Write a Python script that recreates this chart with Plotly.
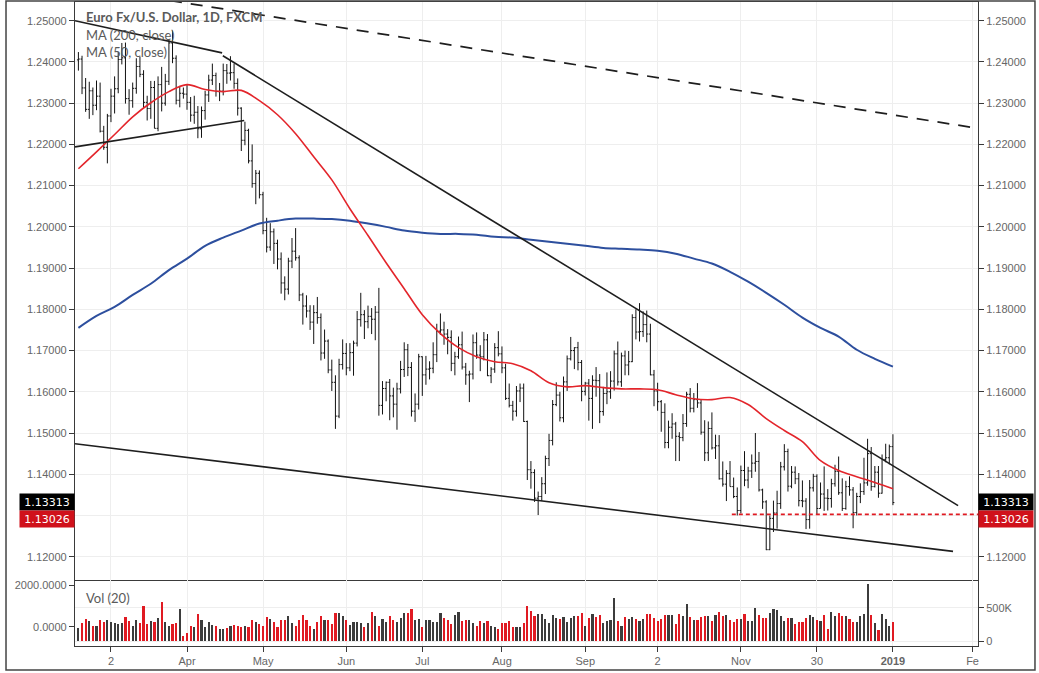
import plotly.graph_objects as go

# ---------------- data ----------------
# trading-day index 0 = 19 Feb 2018 ... 225 = 2 Jan 2019
tick_idx = [9, 30, 51, 74, 95, 117, 140, 160, 183, 204, 225, 247]
tick_text = ["2", "Apr", "May", "Jun", "Jul", "Aug", "Sep", "2", "Nov", "30", "<b>2019</b>", "Fe"]

opens = [
    1.2405, 1.2407, 1.2337, 1.2285, 1.2330, 1.2295, 1.2317, 1.2232, 1.2193, 1.2269,
    1.2317, 1.2335, 1.2406, 1.2410, 1.2311, 1.2306, 1.2336, 1.2389, 1.2370, 1.2302,
    1.2287, 1.2338, 1.2239, 1.2345, 1.2300, 1.2353, 1.2446, 1.2409, 1.2307, 1.2324,
    1.2322, 1.2302, 1.2271, 1.2278, 1.2238, 1.2282, 1.2320, 1.2356, 1.2367, 1.2328,
    1.2329, 1.2379, 1.2373, 1.2374, 1.2348, 1.2288, 1.2210, 1.2234, 1.2160, 1.2105,
    1.2130, 1.2078, 1.1991, 1.1951, 1.1988, 1.1960, 1.1922, 1.1864, 1.1849, 1.1917,
    1.1941, 1.1925, 1.1835, 1.1808, 1.1796, 1.1769, 1.1792, 1.1780, 1.1694, 1.1723,
    1.1653, 1.1623, 1.1541, 1.1666, 1.1693, 1.1658, 1.1695, 1.1718, 1.1775, 1.1787,
    1.1770, 1.1783, 1.1776, 1.1793, 1.1567, 1.1608, 1.1623, 1.1590, 1.1570, 1.1607,
    1.1654, 1.1702, 1.1659, 1.1553, 1.1570, 1.1685, 1.1641, 1.1655, 1.1657, 1.1690,
    1.1747, 1.1750, 1.1740, 1.1732, 1.1669, 1.1685, 1.1714, 1.1660, 1.1641, 1.1643,
    1.1719, 1.1689, 1.1685, 1.1726, 1.1639, 1.1655, 1.1707, 1.1692, 1.1658, 1.1584,
    1.1567, 1.1553, 1.1602, 1.1609, 1.1528, 1.1411, 1.1404, 1.1342, 1.1346, 1.1377,
    1.1438, 1.1482, 1.1569, 1.1592, 1.1537, 1.1624, 1.1680, 1.1700, 1.1707, 1.1671,
    1.1601, 1.1621, 1.1584, 1.1628, 1.1627, 1.1552, 1.1596, 1.1600, 1.1626, 1.1692,
    1.1624, 1.1687, 1.1665, 1.1673, 1.1780, 1.1745, 1.1746, 1.1763, 1.1740, 1.1641,
    1.1602, 1.1576, 1.1550, 1.1477, 1.1514, 1.1522, 1.1492, 1.1489, 1.1523, 1.1594,
    1.1560, 1.1581, 1.1573, 1.1502, 1.1452, 1.1511, 1.1464, 1.1469, 1.1389, 1.1376,
    1.1402, 1.1370, 1.1346, 1.1312, 1.1409, 1.1386, 1.1408, 1.1427, 1.1431, 1.1362,
    1.1333, 1.1217, 1.1293, 1.1306, 1.1329, 1.1418, 1.1455, 1.1371, 1.1405, 1.1389,
    1.1336, 1.1335, 1.1290, 1.1367, 1.1395, 1.1317, 1.1352, 1.1342, 1.1341, 1.1377,
    1.1407, 1.1355, 1.1317, 1.1370, 1.1362, 1.1307, 1.1346, 1.1358, 1.1379, 1.1450,
    1.1370, 1.1405, 1.1354, 1.1436, 1.1440, 1.1467,
]
highs = [
    1.2424, 1.2415, 1.2361, 1.2352, 1.2338, 1.2355, 1.2350, 1.2245, 1.2274, 1.2335,
    1.2365, 1.2424, 1.2446, 1.2447, 1.2334, 1.2350, 1.2409, 1.2413, 1.2380, 1.2318,
    1.2354, 1.2354, 1.2365, 1.2388, 1.2371, 1.2455, 1.2476, 1.2416, 1.2342, 1.2338,
    1.2345, 1.2315, 1.2318, 1.2293, 1.2292, 1.2330, 1.2369, 1.2396, 1.2374, 1.2349,
    1.2396, 1.2395, 1.2414, 1.2396, 1.2360, 1.2290, 1.2255, 1.2238, 1.2200, 1.2138,
    1.2137, 1.2085, 1.2022, 1.2009, 1.1996, 1.1969, 1.1938, 1.1880, 1.1925, 1.1973,
    1.1997, 1.1931, 1.1840, 1.1834, 1.1810, 1.1810, 1.1830, 1.1790, 1.1751, 1.1727,
    1.1678, 1.1640, 1.1680, 1.1727, 1.1718, 1.1718, 1.1724, 1.1796, 1.1840, 1.1798,
    1.1809, 1.1803, 1.1808, 1.1852, 1.1626, 1.1625, 1.1631, 1.1610, 1.1622, 1.1675,
    1.1720, 1.1716, 1.1672, 1.1596, 1.1692, 1.1686, 1.1687, 1.1674, 1.1720, 1.1765,
    1.1790, 1.1770, 1.1752, 1.1749, 1.1697, 1.1734, 1.1746, 1.1670, 1.1651, 1.1739,
    1.1744, 1.1713, 1.1745, 1.1740, 1.1660, 1.1718, 1.1747, 1.1710, 1.1668, 1.1620,
    1.1578, 1.1614, 1.1620, 1.1620, 1.1530, 1.1432, 1.1412, 1.1358, 1.1393, 1.1445,
    1.1498, 1.1580, 1.1623, 1.1600, 1.1637, 1.1688, 1.1733, 1.1708, 1.1721, 1.1677,
    1.1624, 1.1631, 1.1640, 1.1660, 1.1643, 1.1612, 1.1647, 1.1650, 1.1700, 1.1722,
    1.1695, 1.1700, 1.1699, 1.1788, 1.1800, 1.1815, 1.1795, 1.1797, 1.1765, 1.1653,
    1.1622, 1.1580, 1.1572, 1.1530, 1.1548, 1.1527, 1.1502, 1.1546, 1.1600, 1.1609,
    1.1597, 1.1621, 1.1580, 1.1531, 1.1528, 1.1550, 1.1496, 1.1495, 1.1431, 1.1410,
    1.1432, 1.1392, 1.1368, 1.1421, 1.1456, 1.1418, 1.1448, 1.1500, 1.1454, 1.1365,
    1.1337, 1.1300, 1.1336, 1.1360, 1.1430, 1.1473, 1.1462, 1.1420, 1.1419, 1.1403,
    1.1385, 1.1342, 1.1386, 1.1401, 1.1400, 1.1380, 1.1419, 1.1364, 1.1389, 1.1423,
    1.1443, 1.1390, 1.1384, 1.1395, 1.1369, 1.1355, 1.1378, 1.1440, 1.1486, 1.1466,
    1.1420, 1.1420, 1.1448, 1.1474, 1.1472, 1.1497,
]
lows = [
    1.2379, 1.2322, 1.2279, 1.2262, 1.2271, 1.2283, 1.2229, 1.2187, 1.2154, 1.2254,
    1.2275, 1.2324, 1.2394, 1.2299, 1.2272, 1.2289, 1.2323, 1.2363, 1.2288, 1.2258,
    1.2262, 1.2239, 1.2232, 1.2280, 1.2294, 1.2344, 1.2397, 1.2297, 1.2290, 1.2311,
    1.2284, 1.2255, 1.2250, 1.2215, 1.2216, 1.2260, 1.2303, 1.2344, 1.2316, 1.2305,
    1.2319, 1.2347, 1.2355, 1.2335, 1.2270, 1.2184, 1.2198, 1.2154, 1.2095, 1.2055,
    1.2069, 1.1982, 1.1938, 1.1942, 1.1910, 1.1897, 1.1838, 1.1822, 1.1836, 1.1900,
    1.1918, 1.1820, 1.1763, 1.1780, 1.1750, 1.1716, 1.1765, 1.1676, 1.1680, 1.1645,
    1.1602, 1.1510, 1.1536, 1.1654, 1.1640, 1.1650, 1.1639, 1.1710, 1.1758, 1.1728,
    1.1754, 1.1740, 1.1725, 1.1542, 1.1545, 1.1577, 1.1531, 1.1538, 1.1508, 1.1596,
    1.1636, 1.1638, 1.1540, 1.1527, 1.1557, 1.1590, 1.1617, 1.1630, 1.1645, 1.1672,
    1.1738, 1.1714, 1.1691, 1.1650, 1.1640, 1.1680, 1.1654, 1.1617, 1.1575, 1.1630,
    1.1680, 1.1650, 1.1676, 1.1638, 1.1621, 1.1646, 1.1686, 1.1645, 1.1580, 1.1562,
    1.1530, 1.1540, 1.1575, 1.1527, 1.1386, 1.1365, 1.1333, 1.1301, 1.1335, 1.1352,
    1.1420, 1.1470, 1.1565, 1.1528, 1.1526, 1.1602, 1.1676, 1.1655, 1.1652, 1.1577,
    1.1591, 1.1530, 1.1510, 1.1588, 1.1524, 1.1542, 1.1570, 1.1583, 1.1603, 1.1615,
    1.1612, 1.1640, 1.1640, 1.1672, 1.1727, 1.1722, 1.1733, 1.1720, 1.1640, 1.1565,
    1.1554, 1.1503, 1.1463, 1.1463, 1.1486, 1.1432, 1.1432, 1.1480, 1.1515, 1.1550,
    1.1550, 1.1561, 1.1496, 1.1432, 1.1432, 1.1460, 1.1437, 1.1387, 1.1370, 1.1335,
    1.1370, 1.1342, 1.1300, 1.1305, 1.1371, 1.1366, 1.1391, 1.1406, 1.1358, 1.1316,
    1.1216, 1.1216, 1.1260, 1.1268, 1.1316, 1.1409, 1.1358, 1.1366, 1.1376, 1.1322,
    1.1320, 1.1267, 1.1268, 1.1358, 1.1301, 1.1317, 1.1311, 1.1312, 1.1319, 1.1370,
    1.1350, 1.1311, 1.1314, 1.1348, 1.1269, 1.1300, 1.1330, 1.1350, 1.1372, 1.1360,
    1.1368, 1.1343, 1.1353, 1.1429, 1.1424, 1.1325,
]
closes = [
    1.2407, 1.2337, 1.2285, 1.2330, 1.2295, 1.2317, 1.2232, 1.2193, 1.2269, 1.2317,
    1.2335, 1.2406, 1.2410, 1.2311, 1.2306, 1.2336, 1.2389, 1.2370, 1.2302, 1.2287,
    1.2338, 1.2239, 1.2345, 1.2300, 1.2353, 1.2446, 1.2409, 1.2307, 1.2324, 1.2322,
    1.2302, 1.2271, 1.2278, 1.2238, 1.2282, 1.2320, 1.2356, 1.2367, 1.2328, 1.2329,
    1.2379, 1.2373, 1.2374, 1.2348, 1.2288, 1.2210, 1.2234, 1.2160, 1.2105, 1.2130,
    1.2078, 1.1991, 1.1951, 1.1988, 1.1960, 1.1922, 1.1864, 1.1849, 1.1917, 1.1941,
    1.1925, 1.1835, 1.1808, 1.1796, 1.1769, 1.1792, 1.1780, 1.1694, 1.1723, 1.1653,
    1.1623, 1.1541, 1.1666, 1.1693, 1.1658, 1.1695, 1.1718, 1.1775, 1.1787, 1.1770,
    1.1783, 1.1776, 1.1793, 1.1567, 1.1608, 1.1623, 1.1590, 1.1570, 1.1607, 1.1654,
    1.1702, 1.1659, 1.1553, 1.1570, 1.1685, 1.1641, 1.1655, 1.1657, 1.1690, 1.1747,
    1.1750, 1.1740, 1.1732, 1.1669, 1.1685, 1.1714, 1.1660, 1.1641, 1.1643, 1.1719,
    1.1689, 1.1685, 1.1726, 1.1639, 1.1655, 1.1707, 1.1692, 1.1658, 1.1584, 1.1567,
    1.1553, 1.1602, 1.1609, 1.1528, 1.1411, 1.1404, 1.1342, 1.1346, 1.1377, 1.1438,
    1.1482, 1.1569, 1.1592, 1.1537, 1.1624, 1.1680, 1.1700, 1.1707, 1.1671, 1.1601,
    1.1621, 1.1584, 1.1628, 1.1627, 1.1552, 1.1596, 1.1600, 1.1626, 1.1692, 1.1624,
    1.1687, 1.1665, 1.1673, 1.1780, 1.1745, 1.1746, 1.1763, 1.1740, 1.1641, 1.1602,
    1.1576, 1.1550, 1.1477, 1.1514, 1.1522, 1.1492, 1.1489, 1.1523, 1.1594, 1.1560,
    1.1581, 1.1573, 1.1502, 1.1452, 1.1511, 1.1464, 1.1469, 1.1389, 1.1376, 1.1402,
    1.1370, 1.1346, 1.1312, 1.1409, 1.1386, 1.1408, 1.1427, 1.1431, 1.1362, 1.1333,
    1.1217, 1.1293, 1.1306, 1.1329, 1.1418, 1.1455, 1.1371, 1.1405, 1.1389, 1.1336,
    1.1335, 1.1290, 1.1367, 1.1395, 1.1317, 1.1352, 1.1342, 1.1341, 1.1377, 1.1407,
    1.1355, 1.1317, 1.1370, 1.1362, 1.1307, 1.1346, 1.1358, 1.1379, 1.1450, 1.1370,
    1.1405, 1.1354, 1.1436, 1.1440, 1.1467, 1.13313,
]
volumes_k = [
    196, 270, 328, 294, 220, 220, 309, 284, 309, 279,
    270, 260, 270, 368, 294, 220, 309, 270, 529, 255,
    294, 279, 353, 588, 279, 220, 255, 270, 475, 74,
    122, 220, 211, 402, 309, 211, 279, 245, 230, 186,
    186, 196, 220, 235, 220, 211, 220, 211, 309, 284,
    260, 220, 368, 328, 284, 211, 319, 309, 377, 270,
    220, 309, 392, 319, 220, 186, 279, 382, 319, 309,
    250, 417, 426, 382, 309, 235, 279, 279, 270, 211,
    270, 441, 377, 220, 333, 279, 382, 319, 279, 343,
    426, 426, 475, 309, 328, 211, 319, 309, 279, 284,
    417, 343, 309, 260, 392, 441, 294, 319, 319, 270,
    220, 294, 270, 294, 220, 211, 181,
    265, 265, 300, 210, 215, 210, 265, 525, 450, 375,
    400, 400, 335, 275, 390, 350, 335, 360, 285, 350,
    375, 375, 425, 225, 350, 410, 360, 390, 275, 300,
    310, 650, 300, 225, 360, 325, 365, 335, 300, 325,
    400, 410, 350, 300, 335, 390, 390, 390, 260, 410,
    375, 560, 360, 310, 315, 360, 375, 375, 300, 390,
    435, 375, 390, 310, 285, 335, 325, 410, 300, 300,
    495, 390, 350, 340, 415, 475, 460, 375, 300, 340,
    340, 250, 285, 285, 340, 390, 365, 310, 300, 390,
    175, 435, 375, 425, 375, 375, 335, 290, 290, 375,
    410, 850, 390, 275, 165, 410, 335, 225, 290,
]
ma_idx = list(range(0, 226, 5))
ma200 = [
    1.1755, 1.1784, 1.1806, 1.1835, 1.1862, 1.1895, 1.1923, 1.1954, 1.1974, 1.1991,
    1.2008, 1.2015, 1.2020, 1.2020, 1.2019, 1.2015, 1.2008, 1.2000, 1.1991, 1.1986,
    1.1983, 1.1983, 1.1981, 1.1976, 1.1974, 1.1969, 1.1964, 1.1959, 1.1954, 1.1949,
    1.1947, 1.1945, 1.1942, 1.1935, 1.1923, 1.1911, 1.1891, 1.1867, 1.1840, 1.1811,
    1.1780, 1.1755, 1.1734, 1.1702, 1.1680, 1.1661,
]
ma50 = [
    1.2141, 1.2182, 1.2224, 1.2267, 1.2301, 1.2328, 1.2345, 1.2333, 1.2328, 1.2331,
    1.2306, 1.2272, 1.2226, 1.2170, 1.2114, 1.2044, 1.1979, 1.1913, 1.1850, 1.1787,
    1.1741, 1.1707, 1.1685, 1.1673, 1.1668, 1.1651, 1.1622, 1.1612, 1.1615, 1.1610,
    1.1607, 1.1607, 1.1605, 1.1593, 1.1583, 1.1581, 1.1586, 1.1569, 1.1535, 1.1506,
    1.1479, 1.1433, 1.1409, 1.1394, 1.1380, 1.1365,
]
# drawn trend lines (index, price endpoints)
trend_top_short = ([-0.94, 39.7], [1.2500, 1.2422])
trend_top_long = ([39.9, 243.0], [1.2415, 1.1324])
trend_low_short = ([-0.94, 45.8], [1.2194, 1.2258])
trend_support = ([-0.94, 241.6], [1.1474, 1.1213])
trend_dashed = ([25.3, 248.5], [1.2549, 1.2239])
support_level = 1.13026
support_from = 180.5
last_price = 1.13313

x = list(range(len(closes)))
vol_colors = ["#e01a22" if c < o else "#3c3c3c" for o, c in zip(opens, closes)]

X0, X1 = -0.94, 248.5
P0, P1 = 1.11435, 1.25454
vol_frac = 66 / 644

fig = go.Figure()
fig.add_trace(go.Ohlc(
    x=x, open=opens, high=highs, low=lows, close=closes,
    increasing=dict(line=dict(color="#111111", width=1)),
    decreasing=dict(line=dict(color="#111111", width=1)),
    tickwidth=0.4, xaxis="x", yaxis="y", showlegend=False, hoverinfo="skip"))
fig.add_trace(go.Scatter(x=ma_idx, y=ma200, mode="lines", line=dict(color="#2d4f9e", width=2, shape="spline"),
                         xaxis="x", yaxis="y", showlegend=False, hoverinfo="skip"))
fig.add_trace(go.Scatter(x=ma_idx, y=ma50, mode="lines", line=dict(color="#e3252b", width=1.6, shape="spline"),
                         xaxis="x", yaxis="y", showlegend=False, hoverinfo="skip"))
for tx, ty in [trend_top_short, trend_top_long, trend_low_short, trend_support]:
    fig.add_trace(go.Scatter(x=tx, y=ty, mode="lines", line=dict(color="#1e1e1e", width=1.6),
                             xaxis="x", yaxis="y", showlegend=False, hoverinfo="skip"))
fig.add_trace(go.Scatter(x=trend_dashed[0], y=trend_dashed[1], mode="lines",
                         line=dict(color="#1e1e1e", width=1.7, dash="12px,9px"),
                         xaxis="x", yaxis="y", showlegend=False, hoverinfo="skip"))
fig.add_trace(go.Scatter(x=[support_from, X1], y=[support_level, support_level], mode="lines",
                         line=dict(color="#e01a22", width=1.6, dash="4px,3px"),
                         xaxis="x", yaxis="y", showlegend=False, hoverinfo="skip"))
# right price axis carrier
fig.add_trace(go.Scatter(x=[X0], y=[P0], mode="markers", marker=dict(opacity=0),
                         xaxis="x", yaxis="y2", showlegend=False, hoverinfo="skip"))
# volume
fig.add_trace(go.Bar(x=x, y=volumes_k, marker=dict(color=vol_colors, line=dict(width=0)), width=0.6,
                     xaxis="x2", yaxis="y4", showlegend=False, hoverinfo="skip"))
fig.add_trace(go.Scatter(x=[X0], y=[0], mode="markers", marker=dict(opacity=0),
                         xaxis="x2", yaxis="y3", showlegend=False, hoverinfo="skip"))

price_ticks = [round(1.12 + 0.01 * i, 2) for i in range(14)]
# the 1.13000 label sits under the price badges, as in the reference
price_text = ["" if abs(v - 1.13) < 1e-9 else "%.5f" % v for v in price_ticks]
tfont = dict(family="Liberation Sans, Arial, sans-serif", size=11, color="#666666")
grid = "#eeeeee"
axcol = "#3a3a3a"

fig.update_layout(
    width=1039, height=673,
    margin=dict(l=75, r=61, t=2, b=27),
    paper_bgcolor="white", plot_bgcolor="white",
    showlegend=False, bargap=0,
    xaxis=dict(domain=[0, 1], anchor="y", range=[X0, X1], tickvals=tick_idx, showticklabels=False,
               showgrid=True, gridcolor=grid, zeroline=False, showline=True, linecolor=axcol,
               linewidth=1.2, mirror=True, ticks="", rangeslider=dict(visible=False)),
    xaxis2=dict(domain=[0, 1], anchor="y3", range=[X0, X1], matches="x", tickvals=tick_idx,
                ticktext=tick_text, ticks="outside", ticklen=5, tickcolor=axcol, tickfont=tfont,
                showgrid=True, gridcolor=grid, zeroline=False, showline=True, linecolor=axcol,
                linewidth=1.2, mirror=False),
    yaxis=dict(domain=[vol_frac, 1], anchor="x", range=[P0, P1], tickvals=price_ticks, ticktext=price_text,
               ticks="outside", ticklen=5, tickcolor=axcol, tickfont=tfont, showgrid=True, gridcolor=grid,
               zeroline=False, showline=True, linecolor=axcol, linewidth=1.2, mirror=True),
    yaxis2=dict(overlaying="y", side="right", anchor="x", range=[P0, P1], tickvals=price_ticks,
                ticktext=price_text, ticks="outside", ticklen=5, tickcolor=axcol, tickfont=tfont,
                showgrid=False, zeroline=False, showline=False),
    yaxis3=dict(domain=[0, vol_frac], anchor="x2", range=[-926, 2240], tickvals=[0, 2000],
                ticktext=["0.0000", "2000.0000"], ticks="outside", ticklen=5, tickcolor=axcol,
                tickfont=tfont, showgrid=False, zeroline=False, showline=True, linecolor=axcol,
                linewidth=1.2, mirror=True),
    yaxis4=dict(overlaying="y3", side="right", anchor="x2", range=[-75, 916], tickvals=[0, 500],
                ticktext=["0", "500K"], ticks="outside", ticklen=5, tickcolor=axcol, tickfont=tfont,
                showgrid=True, gridcolor=grid, zeroline=False, showline=False),
)

# outer frame
fig.add_shape(type="rect", xref="paper", yref="paper", x0=-0.0764, x1=1.0631, y0=-0.0373, y1=1.0016,
              line=dict(color="#444444", width=1.5), layer="above")

lfont = dict(family="Lato, Open Sans, sans-serif", size=13, color="#5a5a5a")
fig.add_annotation(xref="paper", yref="paper", x=0.010, y=0.9767, xanchor="left", yanchor="middle",
                   text="<b>Euro Fx/U.S. Dollar, 1D, FXCM</b>", showarrow=False, font=lfont)
fig.add_annotation(xref="paper", yref="paper", x=0.010, y=0.9488, xanchor="left", yanchor="middle",
                   text="MA (200, close)", showarrow=False, font=lfont)
fig.add_annotation(xref="paper", yref="paper", x=0.010, y=0.9224, xanchor="left", yanchor="middle",
                   text="MA (50, close)", showarrow=False, font=lfont)
fig.add_annotation(xref="paper", yref="paper", x=0.010, y=0.0745, xanchor="left", yanchor="middle",
                   text="Vol (20)", showarrow=False, font=lfont)

bfont = dict(family="DejaVu Sans, sans-serif", size=11, color="white")
for side_x, anchor in [(1.0, "left"), (0.0, "right")]:
    fig.add_annotation(xref="paper", yref="y", x=side_x, y=last_price, xanchor=anchor, yanchor="middle",
                       yshift=1, text="1.13313", showarrow=False, font=bfont, bgcolor="#000000",
                       width=50, height=12, borderpad=2)
    fig.add_annotation(xref="paper", yref="y", x=side_x, y=support_level, xanchor=anchor, yanchor="middle",
                       yshift=-5, text="1.13026", showarrow=False, font=bfont, bgcolor="#d0111b",
                       width=50, height=12, borderpad=2)

fig.write_html("out.html")
